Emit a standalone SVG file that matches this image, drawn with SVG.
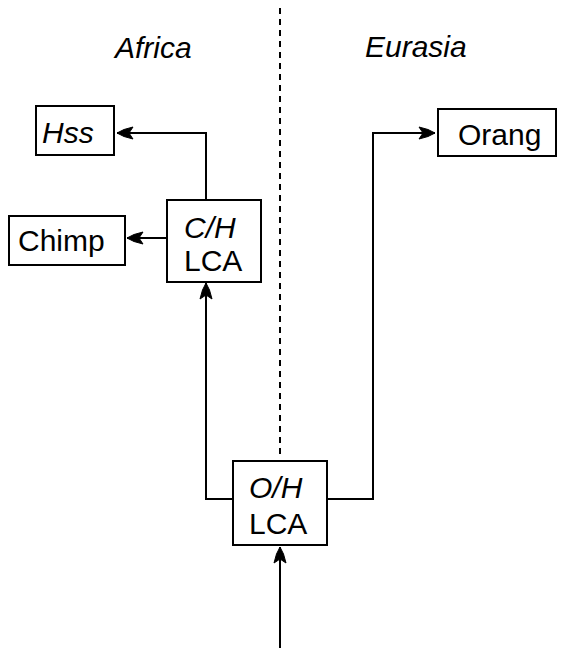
<svg xmlns="http://www.w3.org/2000/svg" width="563" height="648" viewBox="0 0 563 648">
<style>
.box{fill:#fff;stroke:#000;stroke-width:2}
.t{font-family:"Liberation Sans",Arial,sans-serif;font-size:30px;fill:#000}
.i{font-style:italic}
.ln{fill:none;stroke:#000;stroke-width:2}
.dash{fill:none;stroke:#000;stroke-width:2;stroke-dasharray:6,5}
</style>
<defs>
<marker id="ah" markerUnits="userSpaceOnUse" markerWidth="18" markerHeight="14" refX="17" refY="7" orient="auto">
<path d="M17,7 L10,3.5 L1,1 L5,7 L1,13 L10,10.5 Z" fill="#000" stroke="#000" stroke-width="1"/>
</marker>
</defs>
<rect width="563" height="648" fill="#fff"/>
<text class="t i" x="115" y="58">Africa</text>
<text class="t i" x="365" y="57">Eurasia</text>
<g id="connectors">
<line class="dash" x1="280" y1="8" x2="280" y2="455"/>
<polyline class="ln" points="206,200 206,133 117,133" marker-end="url(#ah)"/>
<line class="ln" x1="167" y1="238" x2="127" y2="238" marker-end="url(#ah)"/>
<polyline class="ln" points="233,499 206,499 206,283" marker-end="url(#ah)"/>
<polyline class="ln" points="327,499 373,499 373,133 435,133" marker-end="url(#ah)"/>
<line class="ln" x1="280" y1="648" x2="280" y2="547" marker-end="url(#ah)"/>
</g>
<g id="hss">
<rect class="box" x="36" y="106" width="78" height="49"/>
<text class="t i" x="42" y="143">Hss</text>
</g>
<g id="chimp">
<rect class="box" x="9" y="216" width="116" height="49"/>
<text class="t" x="18" y="251">Chimp</text>
</g>
<g id="ch-lca">
<rect class="box" x="167" y="200" width="94" height="82"/>
<text class="t" x="184" y="238"><tspan class="i">C/H</tspan></text>
<text class="t" x="184" y="271">LCA</text>
</g>
<g id="oh-lca">
<rect class="box" x="233" y="461" width="94" height="84"/>
<text class="t" x="249" y="498"><tspan class="i">O/H</tspan></text>
<text class="t" x="249" y="534">LCA</text>
</g>
<g id="orang">
<rect class="box" x="438" y="109" width="118" height="47"/>
<text class="t" x="458" y="145">Orang</text>
</g>
</svg>
